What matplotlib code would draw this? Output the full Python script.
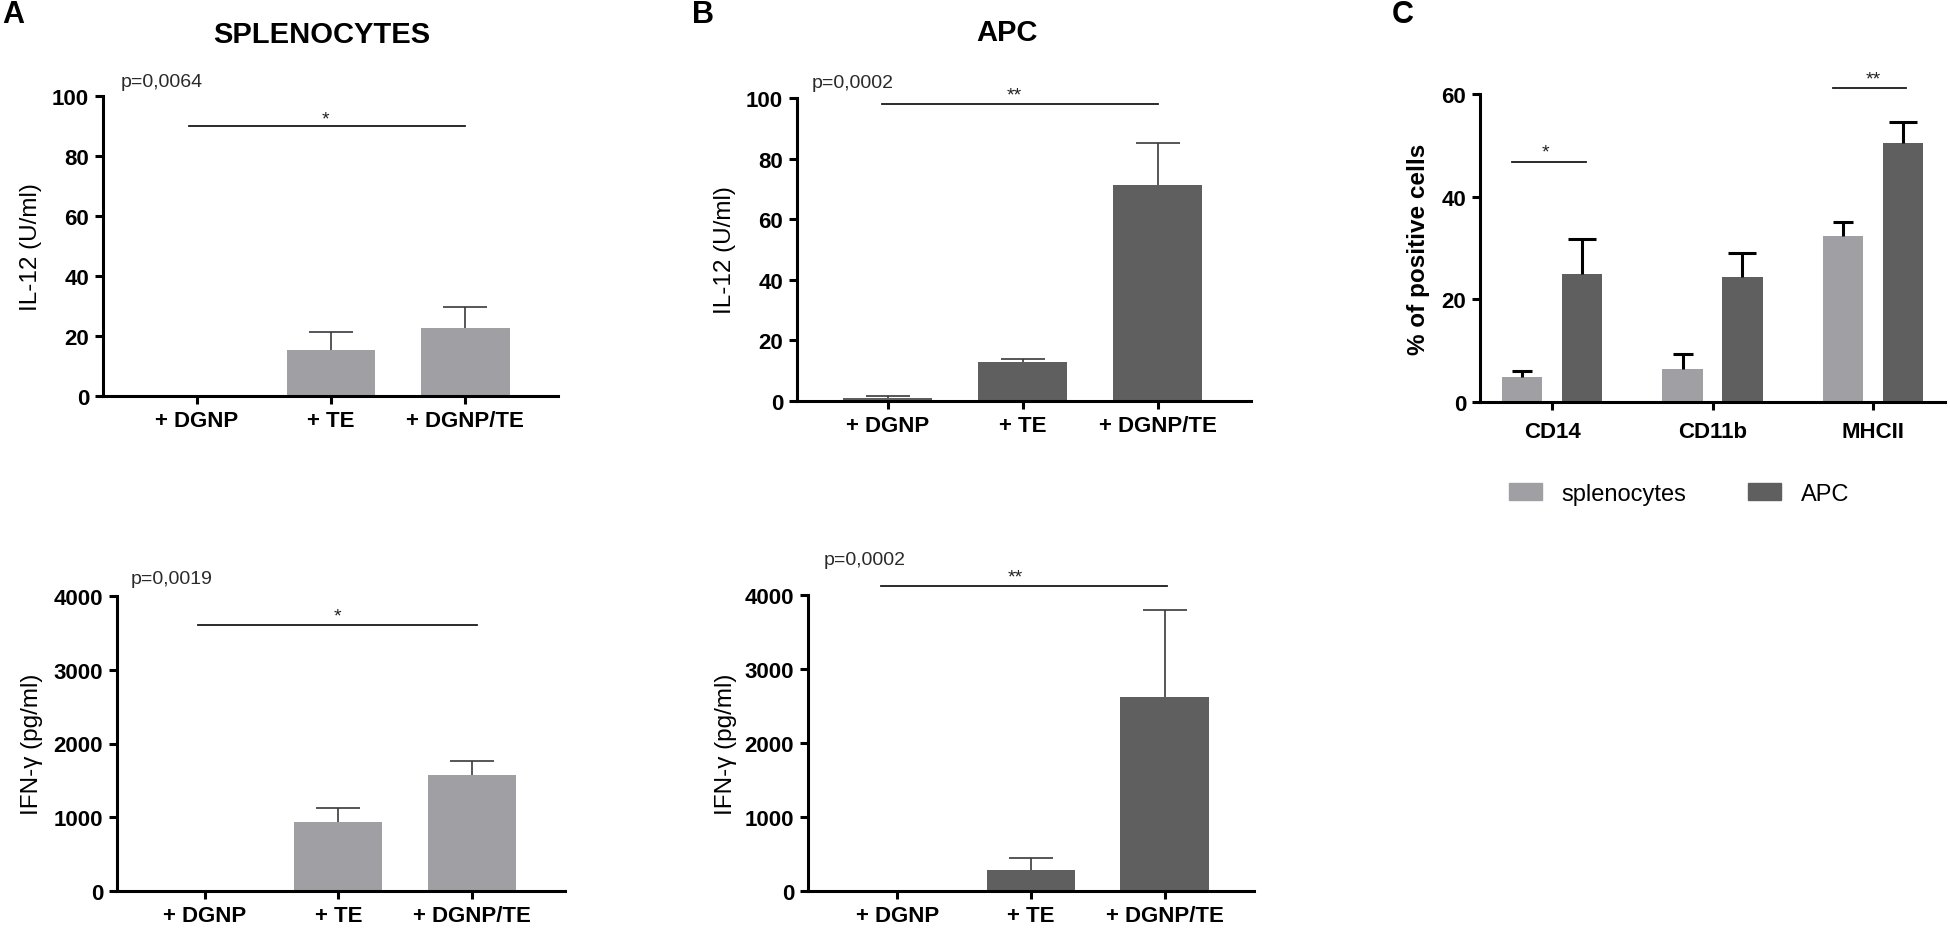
import numpy as np
import matplotlib
matplotlib.use('Agg')
import matplotlib.pyplot as plt
from matplotlib.patches import Patch

plt.rcParams['font.family'] = ['Liberation Sans', 'DejaVu Sans']

# data
groups = ['+ DGNP', '+ TE', '+ DGNP/TE']

spl_il12 = [0, 15.2, 22.8]
spl_il12_err = [0, 6.0, 6.8]
spl_ifn = [0, 935, 1575]
spl_ifn_err = [0, 185, 190]

apc_il12 = [1.0, 12.8, 71.2]
apc_il12_err = [0.5, 1.2, 14.1]
apc_ifn = [0, 285, 2620]
apc_ifn_err = [0, 161, 1180]

markers = ['CD14', 'CD11b', 'MHCII']
pos_spleno = [4.9, 6.4, 32.4]
pos_spleno_err = [1.1, 3.0, 2.7]
pos_apc = [25.0, 24.3, 50.5]
pos_apc_err = [6.7, 4.7, 4.1]

LIGHT = '#a0a0a4'
DARK = '#5f5f5f'
W, H = 1950, 929

fig = plt.figure(figsize=(W / 100, H / 100), dpi=100)


def px_axes(left, right, bottom, top):
    # pixel box -> figure fraction
    return fig.add_axes([left / W, 1 - bottom / H, (right - left) / W, (bottom - top) / H])


def style(ax, yticks, ylim, xlim, ylabel, label_x, bold_label=False):
    for s in ['top', 'right']:
        ax.spines[s].set_visible(False)
    for s in ['left', 'bottom']:
        ax.spines[s].set_linewidth(2.2)
    ax.set_ylim(*ylim)
    ax.set_xlim(*xlim)
    ax.set_yticks(yticks)
    ax.tick_params(width=2.2, length=6, labelsize=16, direction='out', pad=4)
    for t in ax.get_yticklabels() + ax.get_xticklabels():
        t.set_fontweight('bold')
    ax.set_ylabel(ylabel, fontsize=17.5, fontweight='bold' if bold_label else 'normal',
                  va='center')
    ax.yaxis.set_label_coords(label_x, 0.5)


def upper_err(ax, x, vals, errs, color, lw, cap):
    # error bars pointing up only, no cap on the bar top
    errs = np.asarray(errs, dtype=float)
    x = np.asarray(x, dtype=float)
    keep = errs > 0
    _, caps, _ = ax.errorbar(x[keep], np.asarray(vals)[keep],
                             yerr=[np.zeros(keep.sum()), errs[keep]], fmt='none',
                             ecolor=color, elinewidth=lw, capsize=cap, capthick=lw, zorder=3)
    caps[0].set_visible(False)


def cytokine(ax, vals, errs, color, yticks, ylim, xlim, ylabel, label_x):
    x = np.arange(len(groups))
    ax.bar(x, vals, width=0.66, color=color, zorder=2)
    upper_err(ax, x, vals, errs, '#3a3a3a', 1.2, 16)
    ax.set_xticks(x)
    ax.set_xticklabels(groups)
    style(ax, yticks, ylim, xlim, ylabel, label_x)


def sig(ax, x0, x1, y, stars, sx, sy, lw=1.3, fs=14):
    ax.plot([x0, x1], [y, y], color='#1a1a1a', lw=lw, clip_on=False)
    ax.text(sx, sy, stars, ha='center', va='center', fontsize=fs, color='#222222',
            clip_on=False)


def ptext(ax, x, y, s):
    ax.text(x, y, s, fontsize=14, ha='left', va='center', color='#2a2a2a', clip_on=False)


# A top
ax1 = px_axes(103, 558, 397, 97)
cytokine(ax1, spl_il12, spl_il12_err, LIGHT, range(0, 101, 20), (0, 100), (-0.70, 2.69),
         'IL-12 (U/ml)', -0.158)
ptext(ax1, -0.57, 104.7, 'p=0,0064')
sig(ax1, -0.06, 2.0, 90, '*', 0.96, 92.5)

# A bottom
ax2 = px_axes(117, 565, 892, 597)
cytokine(ax2, spl_ifn, spl_ifn_err, LIGHT, range(0, 4001, 1000), (0, 4000), (-0.66, 2.70),
         'IFN-γ (pg/ml)', -0.19)
ptext(ax2, -0.56, 4244, 'p=0,0019')
sig(ax2, -0.05, 2.04, 3610, '*', 0.99, 3730)

# B top
ax3 = px_axes(797, 1251, 402, 99)
cytokine(ax3, apc_il12, apc_il12_err, DARK, range(0, 101, 20), (0, 100), (-0.67, 2.69),
         'IL-12 (U/ml)', -0.159)
ptext(ax3, -0.56, 105, 'p=0,0002')
sig(ax3, -0.04, 2.0, 98, '**', 0.94, 101)

# B bottom
ax4 = px_axes(808, 1254, 892, 596)
cytokine(ax4, apc_ifn, apc_ifn_err, DARK, range(0, 4001, 1000), (0, 4000), (-0.67, 2.67),
         'IFN-γ (pg/ml)', -0.184)
ptext(ax4, -0.55, 4486, 'p=0,0002')
sig(ax4, -0.12, 2.02, 4120, '**', 0.88, 4240)

# C
ax5 = px_axes(1480, 1945, 403, 95)
xc = np.arange(len(markers))
off, bw = 0.187, 0.25
ax5.bar(xc - off, pos_spleno, width=bw, color=LIGHT, zorder=2, label='splenocytes')
ax5.bar(xc + off, pos_apc, width=bw, color=DARK, zorder=2, label='APC')
upper_err(ax5, xc - off, pos_spleno, pos_spleno_err, 'black', 2.2, 7)
upper_err(ax5, xc + off, pos_apc, pos_apc_err, 'black', 2.2, 10)
ax5.set_xticks(xc)
ax5.set_xticklabels(markers)
style(ax5, range(0, 61, 20), (0, 60), (-0.45, 2.45), '% of positive cells', -0.133,
      bold_label=True)
ax5.tick_params(axis='x', pad=8)
for t in ax5.get_xticklabels():
    t.set_fontweight('bold')
sig(ax5, -0.25, 0.21, 46.8, '*', -0.04, 48.8)
sig(ax5, 1.75, 2.205, 61.2, '**', 2.0, 62.9)

fig.legend(handles=[Patch(color=LIGHT, label='splenocytes'), Patch(color=DARK, label='APC')],
           loc='center', bbox_to_anchor=(1679 / W, 1 - 495 / H), ncol=2, frameon=False,
           fontsize=17, handlelength=1.4, handleheight=0.75, handletextpad=0.85,
           columnspacing=2.6)

# titles and panel letters
fig.text(322 / W, 1 - 35 / H, 'SPLENOCYTES', fontsize=21, fontweight='bold',
         ha='center', va='center')
fig.text(1007 / W, 1 - 33 / H, 'APC', fontsize=21, fontweight='bold', ha='center', va='center')
fig.text(2 / W, 1 - 15 / H, 'A', fontsize=22, fontweight='bold', ha='left', va='center')
fig.text(692 / W, 1 - 15 / H, 'B', fontsize=22, fontweight='bold', ha='left', va='center')
fig.text(1392 / W, 1 - 15 / H, 'C', fontsize=22, fontweight='bold', ha='left', va='center')

fig.savefig('out.png', dpi=100, facecolor='white')
